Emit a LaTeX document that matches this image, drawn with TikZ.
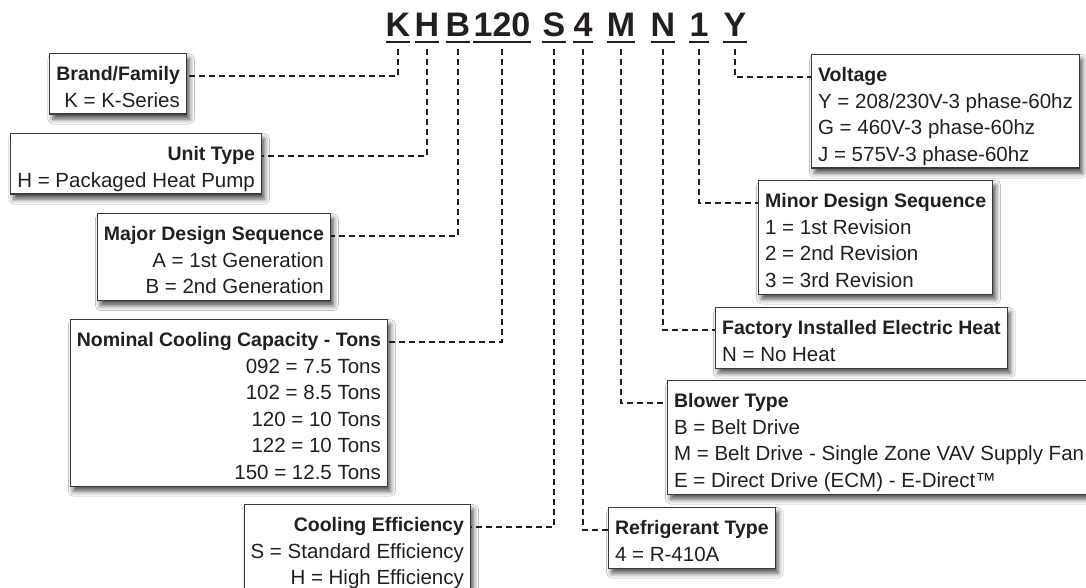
\documentclass[tikz,border=0pt]{standalone}
\usepackage{fontspec}
\setmainfont{Liberation Sans}
\usepackage{xcolor}
\usetikzlibrary{calc,shadows.blur}
\definecolor{ink}{HTML}{231F20}
\definecolor{frame}{HTML}{3A3A3A}
\tikzset{
  code/.style={font=\fontsize{34}{34}\selectfont\bfseries, text=ink, inner sep=0pt, text height=25pt, text depth=5pt, anchor=base},
  uline/.style={draw=ink, line width=2.4pt},
  conn/.style={draw=ink, line width=2pt, dash pattern=on 6pt off 4pt},
  infobox/.style={draw=frame, line width=1.2pt, fill=white, inner xsep=6.5pt, inner ysep=0pt, text=ink,
    font=\fontsize{20.5}{26.5}\selectfont,
    blur shadow={shadow xshift=3pt, shadow yshift=-5pt, shadow blur radius=5pt, shadow opacity=70}},
  lbox/.style={infobox, align=right, anchor=north east},
  rbox/.style={infobox, align=left, anchor=north west},
}
\newcommand{\boxtitle}[1]{\rule{0pt}{27pt}{\fontsize{19.5}{26.5}\selectfont\bfseries #1}}
\newcommand{\boxend}{\rule[-7pt]{0pt}{7pt}}

\begin{document}
\begin{tikzpicture}[x=1pt, y=-1pt]
  \useasboundingbox (0,0) rectangle (1086,588);
  \clip (0,0) rectangle (1086,588);
  \fill[white] (0,0) rectangle (1086,588);

  % model number
  \node[code] (codeK) at (398,37) {K};
  \node[code] (codeH) at (427,37) {H};
  \node[code] (codeB) at (458,37) {B};
  \node[code] (code120) at (502,37) {120};
  \node[code] (codeS) at (554,37) {S};
  \node[code] (code4) at (583,37) {4};
  \node[code] (codeM) at (621,37) {M};
  \node[code] (codeN) at (663,37) {N};
  \node[code] (code1) at (699,37) {1};
  \node[code] (codeY) at (735,37) {Y};

  \foreach \c in {K,H,B,120,S,4,M,N,1,Y}
    \draw[uline] (code\c.south west) -- (code\c.south east);

  % left side (right edges fixed)
  \node[lbox] (brand) at (187,53)
    {\boxtitle{Brand/Family}\\ K = K-Series\boxend};
  \node[lbox] (unit) at (262,133)
    {\boxtitle{Unit Type}\\ H = Packaged Heat Pump\boxend};
  \node[lbox] (major) at (331,213)
    {\boxtitle{Major Design Sequence}\\ A = 1st Generation\\ B = 2nd Generation\boxend};
  \node[lbox] (tons) at (388,319)
    {\boxtitle{Nominal Cooling Capacity - Tons}\\ 092 = 7.5 Tons\\ 102 = 8.5 Tons\\
     120 = 10 Tons\\ 122 = 10 Tons\\ 150 = 12.5 Tons\boxend};
  \node[lbox] (eff) at (471,504)
    {\boxtitle{Cooling Efficiency}\\ S = Standard Efficiency\\ H = High Efficiency\boxend};

  % right side (left edges fixed)
  \node[rbox] (volt) at (811,54)
    {\boxtitle{Voltage}\\ Y = 208/230V-3 phase-60hz\\ G = 460V-3 phase-60hz\\ J = 575V-3 phase-60hz\boxend};
  \node[rbox] (minor) at (758,180)
    {\boxtitle{Minor Design Sequence}\\ 1 = 1st Revision\\ 2 = 2nd Revision\\ 3 = 3rd Revision\boxend};
  \node[rbox] (heat) at (715,307)
    {\boxtitle{Factory Installed Electric Heat}\\ N = No Heat\boxend};
  \node[rbox] (blower) at (667,380)
    {\boxtitle{Blower Type}\\ B = Belt Drive\\ M = Belt Drive - Single Zone VAV Supply Fan\\
     E = Direct Drive (ECM) - E-Direct™\boxend};
  \node[rbox] (refr) at (608,507)
    {\boxtitle{Refrigerant Type}\\ 4 = R-410A\boxend};

  % leaders
  \draw[conn] ([yshift=-7pt]codeK.south) |- ([yshift=-23pt]brand.north east);
  \draw[conn] ([yshift=-7pt]codeH.south) |- ([yshift=-23pt]unit.north east);
  \draw[conn] ([yshift=-7pt]codeB.south) |- ([yshift=-23pt]major.north east);
  \draw[conn] ([yshift=-7pt]code120.south) |- ([yshift=-23pt]tons.north east);
  \draw[conn] ([yshift=-7pt]codeS.south) |- ([yshift=-23pt]eff.north east);
  \draw[conn] ([yshift=-7pt]code4.south) |- ([yshift=-23pt]refr.north west);
  \draw[conn] ([yshift=-7pt]codeM.south) |- ([yshift=-23pt]blower.north west);
  \draw[conn] ([yshift=-7pt]codeN.south) |- ([yshift=-23pt]heat.north west);
  \draw[conn] ([yshift=-7pt]code1.south) |- ([yshift=-23pt]minor.north west);
  \draw[conn] ([yshift=-7pt]codeY.south) |- ([yshift=-23pt]volt.north west);
\end{tikzpicture}
\end{document}
